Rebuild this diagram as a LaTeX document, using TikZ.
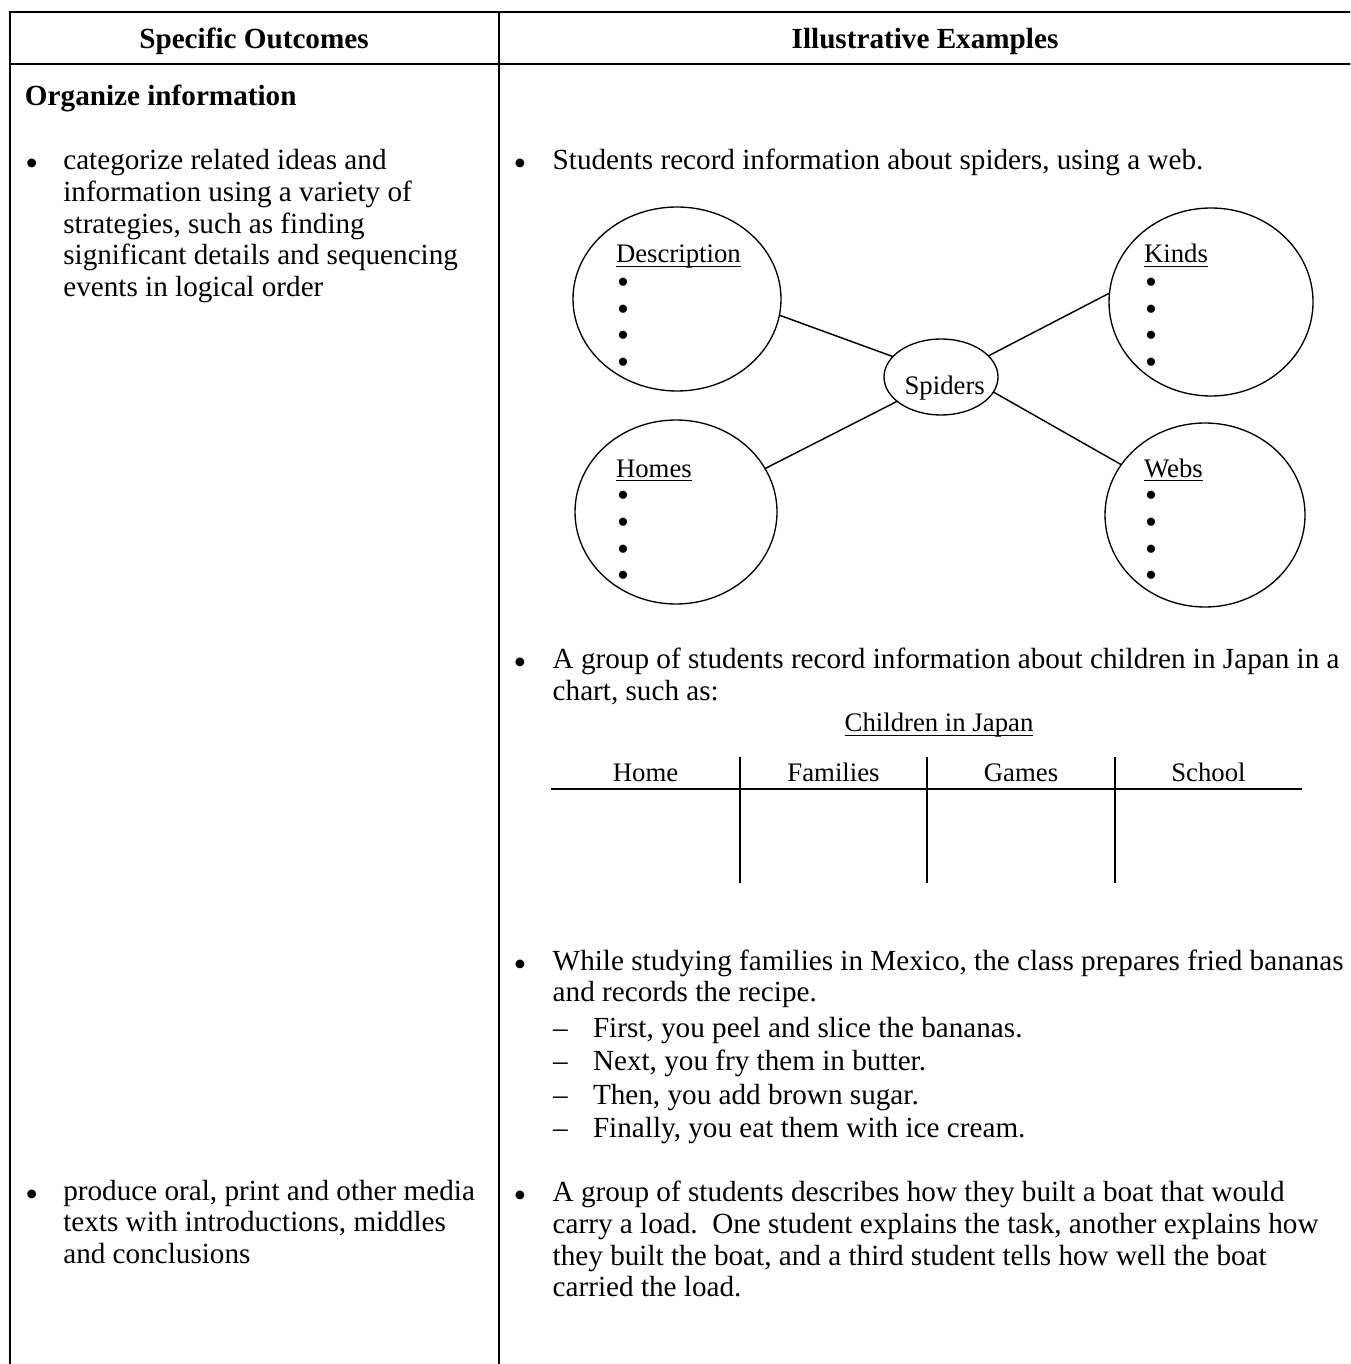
\documentclass[tikz,border=0pt]{standalone}
\usepackage{fontspec}
\setmainfont{Liberation Serif}
\usetikzlibrary{shapes.geometric}
\newsavebox\ulbox
\newcommand\myul[1]{\sbox\ulbox{#1}\rlap{\rule[-1.8pt]{\wd\ulbox}{0.6pt}}\usebox\ulbox}
\newcommand\fourdots{\vbox{\baselineskip=10.98pt\lineskiplimit=-100pt\lineskip=0pt
  \hbox{•}\hbox{•}\hbox{•}\hbox{•}}}
\begin{document}
\begin{tikzpicture}[x=0.41122pt,y=-0.41122pt,
  txt/.style={anchor=base west,inner sep=0pt,outer sep=0pt,font=\fontsize{12}{13}\selectfont},
  bul/.style={anchor=base,inner sep=0pt,outer sep=0pt,font=\fontsize{15}{16}\selectfont},
  dbul/.style={anchor=base,inner sep=0pt,outer sep=0pt,font=\fontsize{14}{15}\selectfont},
  hd/.style={anchor=base,inner sep=0pt,outer sep=0pt,font=\fontsize{12}{13}\selectfont\bfseries},
  small/.style={anchor=base west,inner sep=0pt,outer sep=0pt,font=\fontsize{11}{12}\selectfont},
  smallc/.style={anchor=base,inner sep=0pt,outer sep=0pt,font=\fontsize{11}{12}\selectfont},
  grid/.style={line width=0.82pt},
  chart/.style={line width=0.7pt},
  bubble/.style n args={2}{draw,ellipse,line width=0.55pt,inner sep=0pt,outer sep=0pt,
     minimum width={#1*0.41122pt},minimum height={#2*0.41122pt}},
  link/.style={line width=0.6pt}]
\useasboundingbox (0,0) rectangle (1350,1364);
\clip (0,0) rectangle (1350,1364);
\fill[white] (0,0) rectangle (1350,1364);
% table frame
\draw[grid] (10,1380) -- (10,12.3) -- (1360,12.3);
\draw[grid] (10,64.3) -- (1360,64.3);
\draw[grid] (499,12.3) -- (499,1380);
% headers
\node[hd] (h1) at (254,49) {Specific Outcomes};
\node[hd] (h2) at (925,49) {Illustrative Examples};
\node[txt] (org) at (25,106) {\bfseries Organize information};
% left column
\node[bul] (lb1) at (31.7,176) {•};
\node[txt] (l1) at (63.3,170) {categorize related ideas and};
\node[txt] (l2) at (63.3,201.6) {information using a variety of};
\node[txt] (l3) at (63.3,233.2) {strategies, such as finding};
\node[txt] (l4) at (63.3,264.8) {significant details and sequencing};
\node[txt] (l5) at (63.3,296.4) {events in logical order};
\node[bul] (lb2) at (31.7,1206) {•};
\node[txt] (p1) at (63.3,1200) {produce oral, print and other media};
\node[txt] (p2) at (63.3,1231.6) {texts with introductions, middles};
\node[txt] (p3) at (63.3,1263.2) {and conclusions};
% right column: spiders
\node[bul] (rb1) at (520,176) {•};
\node[txt] (r1) at (552.7,170) {Students record information about spiders, using a web.};
\node[bubble={208}{184}] (desc) at (677,299) {};
\node[bubble={204}{188}] (kinds) at (1211,302) {};
\node[bubble={202}{184}] (homes) at (676,512) {};
\node[bubble={200}{184}] (webs) at (1205,515) {};
\node[bubble={114}{76}] (spid) at (941,377) {};
\node[smallc] (spl) at (944.7,395) {Spiders};
\draw[link] (desc.-9) -- (spid.157);
\draw[link] (spid.24) -- (kinds.175);
\draw[link] (homes.26) -- (spid.209);
\draw[link] (spid.-16) -- (webs.149);
\node[small] (dl) at (616,263) {\myul{Description}};
\node[small] (kl) at (1144,263) {\myul{Kinds}};
\node[small] (hl) at (616,477) {\myul{Homes}};
\node[small] (wl) at (1144,477) {\myul{Webs}};
\node[dbul] (dbs) at (623,373.6) {\fourdots};
\node[dbul] (kbs) at (1151,373.6) {\fourdots};
\node[dbul] (hbs) at (623,586.9) {\fourdots};
\node[dbul] (wbs) at (1151,586.9) {\fourdots};
% Japan chart
\node[bul] (rb2) at (520,674) {•};
\node[txt] (j1) at (552.7,668) {A group of students record information about children in Japan in a};
\node[txt] (j2) at (552.7,700) {chart, such as:};
\node[smallc] (cj) at (939,731.7) {\myul{Children in Japan}};
\node[smallc] (c1) at (645.5,781.7) {Home};
\node[smallc] (c2) at (833.5,781.7) {Families};
\node[smallc] (c3) at (1021,781.7) {Games};
\node[smallc] (c4) at (1208.5,781.7) {School};
\draw[chart] (551,789) -- (1302,789);
\draw[chart] (740,757) -- (740,883);
\draw[chart] (927,757) -- (927,883);
\draw[chart] (1115,757) -- (1115,883);
% recipe
\node[bul] (rb3) at (520,976) {•};
\node[txt] (m1) at (552.7,970) {While studying families in Mexico, the class prepares fried bananas};
\node[txt] (m2) at (552.7,1001.7) {and records the recipe.};
\foreach \i/\yy/\tt in {1/1037/{First, you peel and slice the bananas.},2/1070.7/{Next, you fry them in butter.},3/1104/{Then, you add brown sugar.},4/1137/{Finally, you eat them with ice cream.}}{
  \node[txt] (d\i) at (553,\yy) {–};
  \node[txt] (s\i) at (593,\yy) {\tt};}
% boat
\node[bul] (rb4) at (520,1207.7) {•};
\node[txt] (b1) at (552.7,1201.7) {A group of students describes how they built a boat that would};
\node[txt] (b2) at (552.7,1233.3) {carry a load.~~One student explains the task, another explains how};
\node[txt] (b3) at (552.7,1265) {they built the boat, and a third student tells how well the boat};
\node[txt] (b4) at (552.7,1296.6) {carried the load.};
\end{tikzpicture}
\end{document}
